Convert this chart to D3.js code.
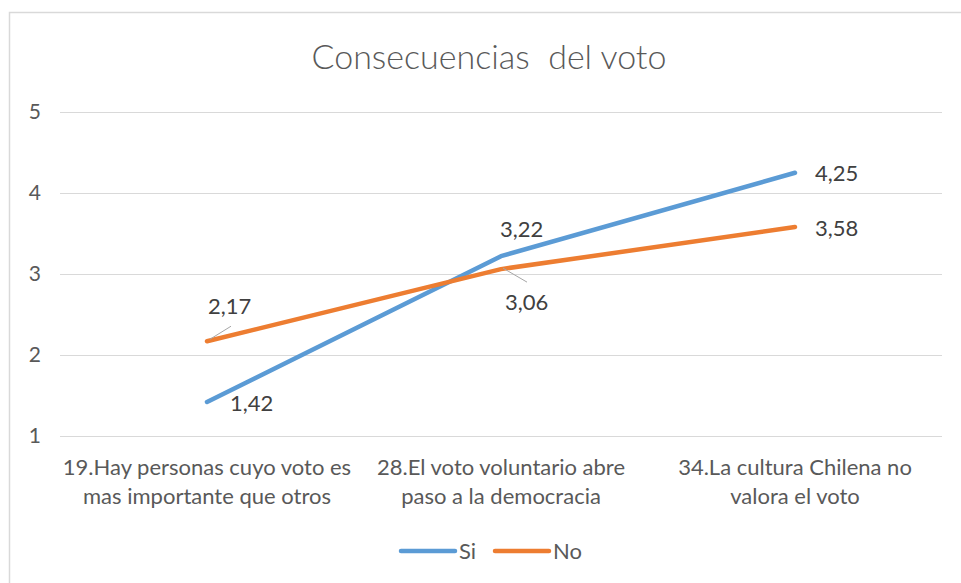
<!DOCTYPE html>
<html>
<head>
<meta charset="utf-8">
<script src="https://cdn.jsdelivr.net/npm/d3@7"></script>
<style>
  body { margin: 0; background: #fff; }
  svg { font-family: Lato, "Open Sans", sans-serif; }
</style>
</head>
<body>
<div id="chart"></div>
<script>
// data
const categories = [
  "19.Hay personas cuyo voto es|mas importante que otros",
  "28.El voto voluntario abre|paso a la democracia",
  "34.La cultura Chilena no|valora el voto"
];
const seriesNames = ["Si", "No"];
const siValues = [1.42, 3.22, 4.25];
const noValues = [2.17, 3.06, 3.58];
const yTicks = [1, 2, 3, 4, 5];

const W = 961, H = 583;
const margin = {top: 112, right: 19, bottom: 147, left: 60};
const colors = {Si: "#5b9bd5", No: "#ed7d31"};

// label placement per point: dx, dy from the point, plus optional leader line
const siLabelPos = [
  {dx: 23, dy: 1},
  {dx: -1, dy: -27},
  {dx: 20, dy: 1}
];
const noLabelPos = [
  {dx: 1, dy: -35, leader: [3, -2, 24, -15]},
  {dx: 4, dy: 33, leader: [2, -1, 26, 13]},
  {dx: 20, dy: 1}
];

var svg = d3.select("#chart")
  .append("svg")
    .attr("width", W)
    .attr("height", H);

// outer frame
svg.append("rect")
  .attr("x", 9.5)
  .attr("y", 12.5)
  .attr("width", W)
  .attr("height", H)
  .attr("fill", "white")
  .attr("stroke", "#d9d9d9")
  .attr("stroke-width", 1.5);

var x = d3.scaleBand()
  .domain(categories)
  .range([margin.left, W - margin.right])
  .padding(0);

var y = d3.scaleLinear()
  .domain([1, 5])
  .range([H - margin.bottom, margin.top]);

// title
svg.append("text")
  .attr("x", 489)
  .attr("y", 69)
  .attr("text-anchor", "middle")
  .style("font-size", "34px")
  .style("font-weight", 300)
  .attr("fill", "#595959")
  .attr("xml:space", "preserve")
  .text("Consecuencias  del voto");

// gridlines + y axis
var yAxis = svg.append("g")
  .attr("transform", "translate(" + margin.left + ",0)")
  .call(d3.axisLeft(y)
    .tickValues(yTicks)
    .tickSize(-(W - margin.left - margin.right))
    .tickPadding(19)
    .tickFormat(d3.format("d")));
yAxis.select(".domain").remove();
yAxis.selectAll(".tick line")
  .attr("stroke", "#d9d9d9")
  .attr("stroke-width", 1);
yAxis.selectAll(".tick text")
  .attr("fill", "#595959")
  .style("font-size", "21px")
  .style("font-family", "Lato, 'Open Sans', sans-serif");

// category labels
var xl = svg.append("g");
categories.forEach(function(c) {
  var t = xl.append("text")
    .attr("x", x(c) + x.bandwidth() / 2)
    .attr("y", 475)
    .attr("text-anchor", "middle")
    .attr("fill", "#595959")
    .style("font-size", "22px");
  c.split("|").forEach(function(part, i) {
    t.append("tspan")
      .attr("x", x(c) + x.bandwidth() / 2)
      .attr("dy", i === 0 ? 0 : 29)
      .text(part);
  });
});

var line = d3.line()
  .x(function(d, i) { return x(categories[i]) + x.bandwidth() / 2; })
  .y(function(d) { return y(d); });

var series = [
  {name: "Si", values: siValues, pos: siLabelPos},
  {name: "No", values: noValues, pos: noLabelPos}
];

series.forEach(function(s) {
  svg.append("path")
    .datum(s.values)
    .attr("fill", "none")
    .attr("stroke", colors[s.name])
    .attr("stroke-width", 4.5)
    .attr("stroke-linecap", "round")
    .attr("stroke-linejoin", "round")
    .attr("d", line);
});

// data labels
series.forEach(function(s) {
  s.values.forEach(function(v, i) {
    var px = x(categories[i]) + x.bandwidth() / 2;
    var py = y(v);
    var p = s.pos[i];
    if (p.leader) {
      svg.append("line")
        .attr("x1", px + p.leader[0])
        .attr("y1", py + p.leader[1])
        .attr("x2", px + p.leader[2])
        .attr("y2", py + p.leader[3])
        .attr("stroke", "#a6a6a6")
        .attr("stroke-width", 1);
    }
    svg.append("text")
      .attr("x", px + p.dx)
      .attr("y", py + p.dy)
      .attr("dy", "0.35em")
      .attr("fill", "#404040")
      .style("font-size", "22px")
      .text(d3.format(".2f")(v).replace(".", ","));
  });
});

// legend
var legend = svg.append("g");
var legendX = [401, 495];
seriesNames.forEach(function(n, i) {
  legend.append("line")
    .attr("x1", legendX[i])
    .attr("x2", legendX[i] + 54)
    .attr("y1", 551)
    .attr("y2", 551)
    .attr("stroke", colors[n])
    .attr("stroke-width", 4.5)
    .attr("stroke-linecap", "round");
  legend.append("text")
    .attr("x", legendX[i] + 58)
    .attr("y", 551)
    .attr("dy", "0.35em")
    .attr("fill", "#595959")
    .style("font-size", "22px")
    .text(n);
});
</script>
</body>
</html>
